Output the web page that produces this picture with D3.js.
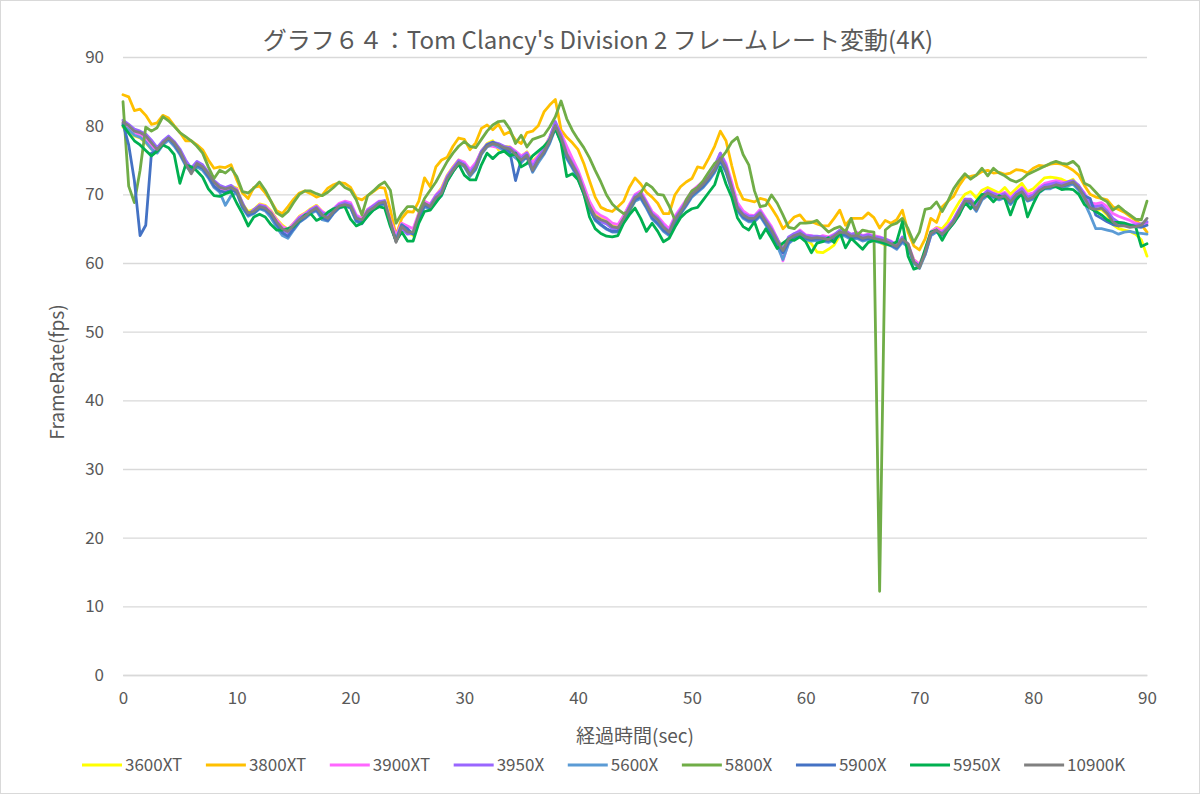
<!DOCTYPE html>
<html><head><meta charset="utf-8">
<script src="https://cdn.jsdelivr.net/npm/d3@7/dist/d3.min.js"></script>
<style>body{margin:0;background:#fff}</style>
</head><body>
<svg id="c" width="1200" height="794"></svg>
<script>
const titleText = "グラフ６４：Tom Clancy's Division 2 フレームレート変動(4K)";
const xTitle = "経過時間(sec)";
const yTitle = "FrameRate(fps)";
const xTicks = [0,10,20,30,40,50,60,70,80,90];
const yTicks = [0,10,20,30,40,50,60,70,80,90];
const seriesNames = ["3600XT","3800XT","3900XT","3950X","5600X","5800X","5900X","5950X","10900K"];
const seriesColors = ["#FFFF00","#FFC000","#FF66FF","#9966FF","#5B9BD5","#70AD47","#4472C4","#00B050","#808080"];
// sample times: every 0.5 s from 0 to 90
const times = d3.range(0, 90.25, 0.5);

const v3600XT = [
79.8,79.2,78.5,78.2,77.5,76.6,76.3,77.4,78.0,77.2,
76.0,74.6,73.4,74.4,73.9,73.0,71.6,70.9,70.7,71.2,
70.9,68.6,67.5,67.8,68.6,68.4,67.6,66.4,65.5,64.9,
65.8,66.8,67.3,67.9,68.4,67.5,67.0,67.8,68.5,68.8,
68.5,66.8,66.4,67.8,68.3,68.9,69.0,66.3,63.8,65.8,
64.5,64.0,67.3,68.9,68.5,69.8,71.0,72.8,74.0,75.0,
74.6,73.4,74.5,76.3,77.4,77.8,76.5,77.0,76.9,76.2,
75.5,76.2,74.8,75.6,76.8,78.3,80.2,78.4,76.0,74.6,
73.0,70.8,68.5,67.0,66.5,66.2,65.6,65.4,66.8,68.4,
69.6,70.2,68.8,67.4,66.7,65.5,64.8,66.6,67.8,69.0,
70.4,71.0,71.8,72.8,73.8,75.6,74.0,71.4,68.4,67.4,
66.9,66.8,67.6,66.2,65.0,63.5,62.2,63.6,64.2,64.4,
63.5,62.8,61.6,61.5,62.0,62.6,64.0,64.2,63.6,63.8,
63.5,63.6,63.4,63.0,62.6,62.8,62.6,63.4,62.6,60.5,
59.8,61.6,64.5,65.2,65.0,66.0,67.5,68.9,70.0,70.4,
69.5,70.6,71.0,70.6,70.2,71.0,70.0,70.8,71.6,70.4,
70.8,71.6,72.4,72.5,72.4,72.2,71.8,72.2,71.0,69.6,
68.2,67.6,67.8,67.0,65.6,65.0,64.8,64.6,64.2,63.4,
61.0];

const v3800XT = [
84.5,84.2,82.2,82.4,81.5,80.2,80.4,81.5,81.1,80.0,
79.0,77.8,77.8,77.2,76.5,75.0,73.8,74.0,73.9,74.3,
72.1,70.2,69.4,71.0,71.2,70.2,69.0,67.6,67.2,68.2,
69.3,70.2,70.5,70.1,69.6,69.9,70.9,71.4,71.7,71.6,
71.0,69.5,69.2,69.8,70.4,71.0,70.9,67.7,64.0,66.5,
67.5,67.4,69.0,72.4,71.1,74.0,75.0,75.4,77.0,78.2,
78.0,76.5,77.5,79.6,80.1,79.4,80.2,78.7,79.1,77.9,
77.4,79.0,79.2,80.0,82.0,83.0,83.8,79.4,78.3,77.5,
76.5,74.5,72.0,69.6,68.1,67.7,67.5,68.2,69.0,71.0,
72.4,71.5,70.3,69.6,68.7,67.2,67.2,69.9,71.1,71.8,
72.3,74.0,73.8,75.3,77.0,79.2,77.8,74.2,71.0,69.3,
69.1,68.9,69.4,69.2,68.0,66.7,65.0,65.8,66.7,67.0,
66.0,66.0,65.7,65.4,65.4,66.5,67.7,65.5,66.5,66.5,
66.5,67.3,66.6,65.1,66.2,65.8,66.3,67.7,64.5,62.5,
61.9,63.5,66.5,65.9,68.2,69.0,69.7,71.3,72.5,72.6,
72.8,73.3,73.5,73.1,73.2,72.9,73.1,73.6,73.5,73.1,
73.8,74.2,74.1,74.4,74.5,74.4,74.0,73.5,72.8,71.3,
70.0,69.6,69.4,69.2,68.2,67.8,67.4,66.8,66.2,65.6,
64.5];

const v3900XT = [
80.2,79.8,79.0,78.6,78.0,77.0,76.2,77.3,78.0,77.3,
76.0,74.7,73.5,74.3,73.8,72.8,71.5,70.9,70.6,70.8,
70.8,68.3,67.2,67.4,68.5,68.3,67.5,66.3,65.3,64.9,
65.8,66.7,67.2,67.8,68.3,67.5,67.0,67.9,68.7,69.0,
68.8,67.0,66.5,67.8,68.4,69.0,69.0,66.2,64.0,65.8,
65.4,65.0,67.3,69.0,68.6,69.9,70.8,72.7,73.9,75.0,
74.7,73.6,74.6,76.3,77.1,77.0,76.8,76.4,76.9,76.3,
75.6,76.1,74.6,75.6,76.7,78.3,80.4,78.9,77.0,75.2,
73.5,71.3,69.0,67.5,66.9,66.5,65.8,65.6,66.9,68.5,
70.0,70.5,69.0,67.5,66.8,65.8,65.0,66.8,68.0,69.2,
70.5,71.2,71.9,73.0,74.0,76.0,74.5,71.8,68.8,67.6,
67.0,66.9,67.8,66.5,65.3,63.6,60.3,63.0,64.2,64.8,
64.1,64.0,63.6,64.0,63.8,64.2,64.4,64.8,64.1,64.5,
64.0,64.2,64.0,63.8,63.5,63.2,62.6,63.4,62.8,60.5,
59.8,61.8,64.6,65.1,64.6,65.4,66.4,67.9,69.3,69.2,
68.5,69.8,70.6,70.2,69.9,70.3,69.5,70.3,71.0,70.0,
70.2,71.0,71.6,71.8,72.0,71.8,71.6,71.9,71.2,70.2,
68.8,68.6,68.8,68.2,67.2,66.8,66.5,66.2,65.8,65.6,
65.8];

const v3950X = [
80.8,80.2,79.5,79.2,78.8,77.9,76.8,77.8,78.5,77.7,
76.6,75.0,73.8,74.8,74.3,73.2,72.0,71.3,71.0,71.3,
70.6,68.8,67.0,67.8,68.4,68.2,67.0,65.8,64.8,64.4,
65.6,66.6,67.0,67.8,68.2,67.3,66.9,67.8,68.5,68.8,
68.5,66.8,66.0,67.7,68.3,68.9,69.1,65.8,63.2,65.0,
64.2,64.3,66.8,68.5,68.4,69.8,70.6,72.6,73.8,74.9,
74.4,73.2,74.3,76.3,77.3,77.6,77.4,77.0,76.8,76.1,
75.3,76.0,74.0,75.4,76.6,78.2,80.6,78.6,76.0,74.5,
73.0,70.6,68.2,66.6,66.0,65.7,65.0,64.9,66.4,68.2,
69.8,70.2,68.8,67.2,66.5,65.4,64.6,66.5,67.7,69.0,
70.3,71.0,71.8,72.9,74.2,76.0,74.2,71.2,68.3,67.2,
66.8,66.8,67.5,66.3,65.0,63.5,62.0,63.8,64.3,64.6,
64.0,63.9,63.9,63.8,63.6,64.1,64.8,64.6,64.2,64.3,
63.9,64.1,63.8,63.7,63.5,63.1,62.6,63.8,62.5,60.0,
59.5,61.2,64.0,64.6,64.4,65.2,66.3,67.8,69.3,69.3,
68.2,69.8,70.5,70.1,69.8,70.1,69.2,70.2,70.8,69.6,
69.9,70.8,71.3,71.5,71.7,71.5,71.8,72.0,71.3,70.0,
68.4,68.2,68.4,67.6,66.5,65.9,65.8,65.6,65.5,65.7,
66.0];

const v5600X = [
80.0,79.4,78.6,78.3,77.6,76.6,76.0,77.2,77.9,77.0,
75.8,74.2,73.2,74.0,73.5,72.4,71.0,70.3,68.4,69.8,
70.2,68.0,66.8,67.2,67.9,67.6,66.6,65.2,64.0,63.6,
64.8,65.9,66.5,67.2,67.6,66.3,66.1,67.2,68.0,68.3,
68.0,66.0,65.7,67.0,67.7,68.3,68.6,65.6,63.5,65.6,
64.8,64.2,66.3,68.2,67.8,69.0,69.8,72.0,73.3,74.5,
74.0,72.6,73.6,75.8,76.9,77.3,76.9,76.4,76.0,75.3,
74.6,75.5,73.2,74.6,75.8,77.4,79.6,77.6,75.2,73.8,
72.3,70.0,67.8,66.2,65.5,64.9,64.5,64.5,65.9,67.5,
69.0,69.4,68.0,66.4,65.6,64.6,64.0,65.8,67.1,68.3,
69.6,70.3,71.0,72.0,73.2,74.8,73.2,70.6,67.6,66.5,
66.0,66.0,66.8,65.5,64.2,62.5,60.5,62.8,63.5,63.9,
63.4,63.2,63.3,63.2,63.0,63.4,64.0,63.9,63.4,63.6,
63.2,63.4,63.2,63.0,62.8,62.5,62.0,63.0,62.3,60.0,
59.2,61.2,64.0,64.5,64.0,64.8,65.8,67.2,68.6,68.6,
67.5,69.2,69.8,69.5,69.2,69.5,68.5,69.5,70.0,69.0,
69.3,70.2,70.8,70.8,71.2,71.0,71.2,71.5,70.6,68.8,
67.0,65.0,65.0,64.8,64.6,64.2,64.5,64.6,64.4,64.3,
64.2];

const v5800X = [
83.5,71.2,68.8,73.5,79.8,79.2,79.7,81.3,80.7,79.9,
79.0,78.4,77.8,77.0,76.0,74.0,72.3,73.5,73.1,73.8,
72.6,70.4,70.2,70.9,71.8,70.6,69.0,67.3,66.8,67.5,
68.8,70.0,70.5,70.5,70.1,69.8,70.3,71.0,71.8,71.0,
70.6,69.2,67.0,69.8,70.5,71.3,71.8,70.6,65.8,67.2,
68.2,68.2,67.5,69.4,70.6,71.8,73.3,74.8,76.0,77.0,
77.7,77.0,76.8,78.0,79.2,80.1,80.6,80.7,79.5,77.4,
78.6,76.9,78.0,78.3,78.6,79.8,81.3,83.6,81.0,79.3,
78.0,76.8,75.3,73.5,71.8,69.9,68.6,67.8,67.2,67.5,
69.2,70.2,71.6,71.0,70.0,69.9,68.3,66.3,67.0,69.2,
70.5,71.0,72.0,73.3,74.5,75.1,76.2,77.6,78.3,75.8,
74.3,70.5,68.2,68.4,69.9,68.7,67.0,65.2,65.0,65.8,
65.8,65.9,66.2,65.3,64.5,65.0,65.3,64.5,66.5,64.0,
64.8,64.6,64.5,12.2,64.8,65.5,65.8,66.5,65.0,63.0,
64.5,67.8,68.0,68.9,67.5,69.0,70.8,72.0,73.0,72.2,
72.8,73.8,72.7,73.8,73.1,72.7,72.1,71.8,72.2,72.9,
73.3,73.7,74.1,74.5,74.8,74.5,74.4,74.8,74.0,71.6,
71.2,70.3,69.4,68.9,67.7,68.3,67.6,67.0,66.4,66.3,
69.0];

const v5900X = [
80.3,77.2,72.0,64.0,65.5,76.0,76.3,77.4,78.2,77.3,
76.0,74.4,73.3,74.2,73.8,72.6,71.2,70.5,70.3,70.6,
70.3,68.2,67.0,67.3,68.0,67.8,67.0,65.6,64.4,63.9,
65.0,66.0,66.6,67.4,67.8,66.6,66.2,67.3,68.1,68.4,
68.1,66.2,65.8,67.2,67.8,68.5,68.7,65.6,63.2,65.5,
65.0,64.2,66.6,68.4,68.0,69.3,70.0,72.2,73.5,74.6,
74.2,72.8,73.8,76.0,77.2,77.6,77.2,76.6,76.2,72.0,
75.0,75.4,73.4,75.0,76.0,77.6,79.8,77.8,75.4,74.0,
72.5,70.2,68.0,66.3,65.6,65.0,64.6,64.6,66.0,67.8,
69.2,69.6,68.2,66.6,65.8,64.8,64.2,66.0,67.3,68.5,
69.8,70.5,71.2,72.2,73.4,75.0,73.4,70.8,67.8,66.7,
66.2,66.2,67.0,65.7,64.4,62.8,61.5,63.0,63.7,64.0,
63.6,63.4,63.5,63.4,63.2,63.6,64.2,64.1,63.6,63.8,
63.4,63.6,63.4,63.2,63.0,62.6,62.2,63.2,62.6,60.1,
59.6,61.4,64.2,64.7,64.1,64.9,66.0,67.4,68.8,68.8,
67.7,69.4,70.0,69.7,69.4,69.6,68.7,69.7,70.3,69.1,
69.5,70.4,70.9,71.0,71.3,71.1,71.4,71.7,70.8,69.8,
69.4,67.0,66.5,66.0,65.6,65.4,65.6,65.5,65.3,65.2,
65.5];

const v5950X = [
80.0,78.9,77.8,77.2,76.4,75.6,76.3,77.2,76.8,75.8,
71.6,74.3,74.0,73.4,72.5,70.8,69.8,69.7,70.1,70.4,
68.7,67.2,65.4,66.7,67.1,66.7,65.6,64.8,64.8,65.0,
65.3,66.2,67.0,67.2,66.2,66.6,67.4,67.9,68.1,68.2,
66.4,65.4,65.8,66.8,67.7,68.2,68.0,65.3,63.2,64.5,
63.2,63.2,65.8,67.5,67.7,68.8,69.9,71.9,73.3,74.4,
72.8,72.1,72.1,74.3,76.0,75.2,76.0,76.3,75.6,76.0,
74.0,74.5,75.6,76.3,77.0,77.9,79.6,77.5,72.6,73.0,
72.1,70.1,66.7,65.0,64.3,63.9,63.8,64.0,65.8,67.0,
68.0,66.5,64.6,65.8,64.6,63.1,63.6,65.2,66.6,67.4,
67.9,68.1,69.2,70.3,71.4,74.0,71.5,69.6,66.6,65.3,
64.8,66.0,63.6,65.0,63.6,62.1,62.9,63.5,63.3,63.8,
63.1,61.5,62.9,63.1,63.7,63.0,64.5,62.2,63.6,62.8,
62.0,63.0,63.3,63.1,62.8,62.6,63.1,66.0,61.0,59.1,
59.4,62.0,64.5,64.8,63.3,64.8,65.8,67.0,68.8,67.9,
69.0,70.0,69.8,68.9,69.8,69.4,67.0,69.2,70.1,66.7,
68.6,70.3,70.9,71.1,71.1,70.7,70.8,70.7,70.0,68.5,
68.0,67.5,67.0,66.3,65.9,65.9,65.8,65.5,65.3,62.4,
62.8];

const v10900K = [
80.5,80.0,79.2,79.0,78.5,77.5,76.5,77.5,78.2,77.5,
76.3,74.5,73.0,74.5,74.0,73.0,71.8,71.0,70.8,71.0,
70.5,68.5,67.3,67.5,68.2,68.0,67.3,66.0,65.0,64.6,
65.5,66.3,66.8,67.5,68.0,67.0,66.5,67.5,68.3,68.5,
68.3,66.5,66.3,67.5,68.0,68.7,68.9,66.0,63.0,65.3,
64.5,64.5,67.0,68.7,68.2,69.5,70.2,72.3,73.5,74.6,
74.2,72.8,74.0,76.0,77.0,77.4,77.2,76.8,76.6,75.8,
75.0,75.7,73.5,75.0,76.2,77.8,80.0,78.2,75.8,74.3,
72.8,70.5,68.3,66.8,66.3,66.0,65.3,65.1,66.5,68.0,
69.5,70.0,68.5,67.0,66.3,65.2,64.5,66.3,67.5,68.7,
70.0,70.7,71.5,72.5,73.6,75.3,73.8,71.0,68.0,67.0,
66.5,66.5,67.3,66.0,64.8,63.2,61.8,63.5,64.0,64.3,
63.8,63.6,63.7,63.6,63.4,63.9,64.5,64.4,63.9,64.0,
63.6,63.8,63.6,63.4,63.2,62.8,62.4,63.5,62.8,60.2,
59.3,61.5,64.3,64.8,64.2,65.0,66.0,67.5,69.0,69.0,
67.8,69.5,70.2,69.8,69.5,69.8,68.9,69.9,70.4,69.2,
69.6,70.5,71.0,71.1,71.4,71.2,71.5,71.8,71.0,69.5,
68.0,67.8,68.0,67.2,66.0,65.4,65.4,65.2,65.3,65.5,
66.5];

const seriesValues = [v3600XT, v3800XT, v3900XT, v3950X, v5600X, v5800X, v5900X, v5950X, v10900K];

const W = 1200, H = 794;
const m = {left: 123, right: 1147, top: 57, bottom: 675};
const font = "'Noto Sans CJK JP','Noto Sans',sans-serif";
const txt = "#595959";
const svg = d3.select("#c");
svg.append("rect").attr("x",0.5).attr("y",0.5).attr("width",W-1).attr("height",H-1)
  .attr("fill","#fff").attr("stroke","#d9d9d9");

const x = d3.scaleLinear().domain([0,90]).range([m.left, m.right]);
const y = d3.scaleLinear().domain([0,90]).range([m.bottom, m.top]);

// gridlines + y labels
const yAxis = d3.axisLeft(y).tickValues(yTicks).tickSize(-(m.right-m.left)).tickPadding(19);
const gy = svg.append("g").attr("transform",`translate(${m.left},0)`).call(yAxis);
gy.select(".domain").remove();
gy.selectAll("line").attr("stroke","#d9d9d9").attr("stroke-width",1.3);
gy.selectAll("text").attr("fill",txt).attr("font-family",font).attr("font-size",17);

const xAxis = d3.axisBottom(x).tickValues(xTicks).tickSize(0).tickPadding(17);
const gx = svg.append("g").attr("transform",`translate(0,${m.bottom})`).call(xAxis);
gx.select(".domain").attr("stroke","#d9d9d9").attr("stroke-width",1.3);
gx.selectAll("text").attr("fill",txt).attr("font-family",font).attr("font-size",17);

// lines
const line = d3.line().x((d,i)=>x(times[i])).y(d=>y(d));
seriesValues.forEach((vals,k)=>{
  svg.append("path").datum(vals).attr("d",line).attr("fill","none")
    .attr("stroke",seriesColors[k]).attr("stroke-width",2.8)
    .attr("stroke-linejoin","round").attr("stroke-linecap","round");
});

// title
svg.append("text").attr("x",598).attr("y",49).attr("text-anchor","middle")
  .attr("fill",txt).attr("font-family",font).attr("font-size",24).text(titleText);
// axis titles
svg.append("text").attr("x",635).attr("y",743).attr("text-anchor","middle")
  .attr("fill",txt).attr("font-family",font).attr("font-size",19).text(xTitle);
svg.append("text").attr("transform","translate(64,372) rotate(-90)").attr("text-anchor","middle")
  .attr("fill",txt).attr("font-family",font).attr("font-size",19).text(yTitle);

// legend
let lx = 82;
const ly = 765;
seriesNames.forEach((n,k)=>{
  const g = svg.append("g");
  g.append("line").attr("x1",lx).attr("x2",lx+40).attr("y1",ly).attr("y2",ly)
    .attr("stroke",seriesColors[k]).attr("stroke-width",2.8);
  const t = g.append("text").attr("x",lx+43).attr("y",ly+6).attr("fill",txt)
    .attr("font-family",font).attr("font-size",17).text(n);
  lx += 43 + t.node().getComputedTextLength() + 23.6;
});
</script>
</body></html>
